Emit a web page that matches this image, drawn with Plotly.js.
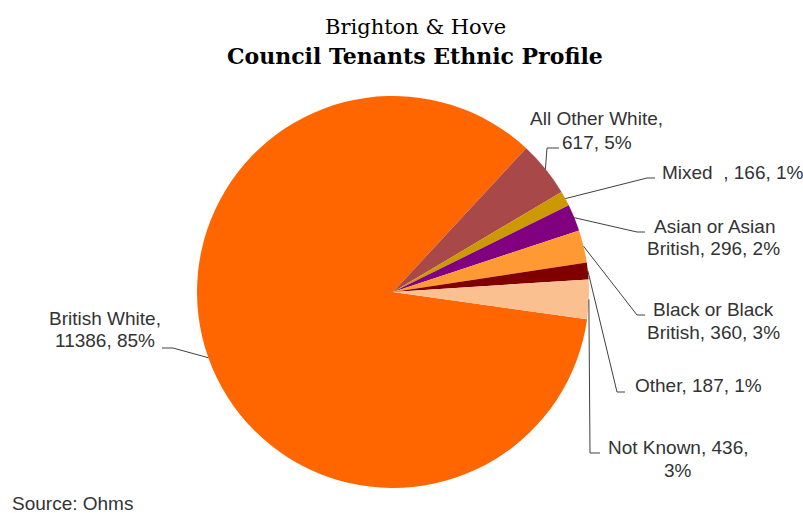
<!DOCTYPE html>
<html><head><meta charset="utf-8">
<script src="https://cdn.plot.ly/plotly-3.0.1.min.js"></script>
<style>html,body{margin:0;padding:0;background:#fff}</style>
</head><body>
<div id="chart" style="width:803px;height:513px"></div>
<script>
// ---- data ----
const categories = ['British White', 'All Other White', 'Mixed ', 'Asian or Asian British', 'Black or Black British', 'Other', 'Not Known'];
const values = [11386, 617, 166, 296, 360, 187, 436];
const colors = ['#FF6600', '#A84848', '#CC9900', '#800080', '#FF9933', '#800000', '#FAC090'];
// label lines; {v} = value, {p} = percent
const labelLines = [
  ['British White,', '{v}, {p}%'],
  ['All Other White,', '{v}, {p}%'],
  ['Mixed  , {v}, {p}%'],
  ['Asian or Asian', 'British, {v}, {p}%'],
  ['Black or Black', 'British, {v}, {p}%'],
  ['Other, {v}, {p}%'],
  ['Not Known, {v},', '{p}%']
];

// ---- layout constants (pixels) ----
const W = 803, H = 513;
const pieL = 197, pieR = 589, pieT = 95, pieB = 489;
const cx = (pieL + pieR) / 2, cy = (pieT + pieB) / 2;
const R = Math.min(pieR - pieL, pieB - pieT) / 2;
const rotation = 98;
// label positions: [x, y] per line; leader elbow & end
const labelPos = [
  {lines: [[105, 318], [105, 340]], anchor: 'center', elbow: [173, 348], end: [162, 348]},
  {lines: [[596, 119], [597, 142]], anchor: 'center', elbow: [547, 148], end: [559, 148]},
  {lines: [[660, 172]], anchor: 'left', elbow: [647, 178], end: [655, 178]},
  {lines: [[714, 226], [713, 248]], anchor: 'center', elbow: [637, 232], end: [645, 232]},
  {lines: [[713, 309], [713, 332]], anchor: 'center', elbow: [637, 315], end: [645, 315]},
  {lines: [[698, 385]], anchor: 'center', elbow: [617, 392], end: [625, 392]},
  {lines: [[678, 447], [678, 470]], anchor: 'center', elbow: [590, 453], end: [600, 453]}
];

const px = x => x / W;
const py = y => 1 - y / H;
const total = values.reduce((a, b) => a + b, 0);
const labelFont = {family: 'Liberation Sans, Arial, sans-serif', size: 19, color: '#333333'};

const annotations = [];
const shapes = [];
let cum = 0;
values.forEach((v, i) => {
  const mid = (rotation + (cum + v / 2) / total * 360) * Math.PI / 180;
  cum += v;
  const ex = cx + R * Math.sin(mid), ey = cy - R * Math.cos(mid);
  const pct = Math.round(v / total * 100);
  const lp = labelPos[i];
  labelLines[i].forEach((t, j) => {
    annotations.push({
      xref: 'paper', yref: 'paper', x: px(lp.lines[j][0]), y: py(lp.lines[j][1]),
      xanchor: lp.anchor, yanchor: 'middle', showarrow: false,
      text: t.replace('{v}', v).replace('{p}', pct), font: labelFont
    });
  });
  shapes.push({
    type: 'path', xref: 'paper', yref: 'paper',
    path: `M ${px(ex)} ${py(ey)} L ${px(lp.elbow[0])} ${py(lp.elbow[1])} L ${px(lp.end[0])} ${py(lp.end[1])}`,
    line: {color: '#404040', width: 1}
  });
});

annotations.push(
  {xref: 'paper', yref: 'paper', x: px(416), y: py(27), xanchor: 'center', yanchor: 'middle', showarrow: false,
   text: 'Brighton &amp; Hove', font: {family: 'DejaVu Serif, serif', size: 21, color: '#000'}},
  {xref: 'paper', yref: 'paper', x: px(415), y: py(56), xanchor: 'center', yanchor: 'middle', showarrow: false,
   text: '<b>Council Tenants Ethnic Profile</b>', font: {family: 'DejaVu Serif, serif', size: 22, color: '#000'}},
  {xref: 'paper', yref: 'paper', x: px(10), y: py(503), xanchor: 'left', yanchor: 'middle', showarrow: false,
   text: 'Source: Ohms', font: labelFont}
);

const trace = {
  type: 'pie', labels: categories, values: values, sort: false,
  direction: 'clockwise', rotation: rotation,
  marker: {colors: colors, line: {width: 0}},
  textinfo: 'none', hoverinfo: 'label+value+percent',
  domain: {x: [px(pieL), px(pieR)], y: [py(pieB), py(pieT)]}
};

Plotly.newPlot('chart', [trace], {
  width: W, height: H, margin: {l: 0, r: 0, t: 0, b: 0},
  showlegend: false, paper_bgcolor: '#fff',
  annotations: annotations, shapes: shapes
}, {displayModeBar: false, staticPlot: true});
</script>
</body></html>
